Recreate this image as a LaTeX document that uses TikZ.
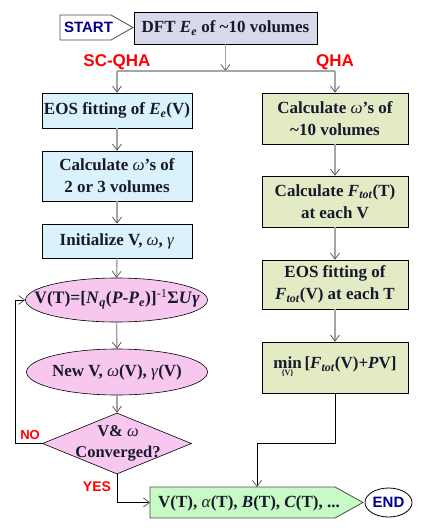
\documentclass[tikz,border=0pt]{standalone}
\usepackage{fontspec}
\setmainfont{Liberation Serif}
\newfontfamily\arialfont{Liberation Sans}
\usetikzlibrary{shapes.geometric,arrows.meta}
\definecolor{lav}{RGB}{217,217,236}
\definecolor{cyanf}{RGB}{218,242,252}
\definecolor{olivef}{RGB}{227,235,197}
\definecolor{pinkf}{RGB}{247,199,240}
\definecolor{greenf}{RGB}{199,250,196}
\definecolor{navy}{RGB}{0,0,140}
\definecolor{txt}{RGB}{25,25,45}
\definecolor{conn}{RGB}{165,165,165}
\definecolor{tipc}{RGB}{80,80,80}
\definecolor{redl}{RGB}{255,0,0}
\newcommand\Ftot{\textit{F}\textsubscript{\textit{tot}}}
\newcommand\Esub{\textit{E}\textsubscript{\textit{e}}}
\newcommand\omg{\textit{\mdseries ω}}
\newcommand\gmm{\textit{\mdseries γ}}
\begin{document}
\begin{tikzpicture}[x=1pt,y=-1pt,
  boxtext/.style={text=txt, font=\fontsize{17}{22}\selectfont\bfseries, align=center, inner sep=0pt},
  box/.style={boxtext, draw=black, line width=0.8pt},
  lbox/.style={box, fill=cyanf, minimum width=150pt},
  rbox/.style={box, fill=olivef, minimum width=146pt},
  ellbox/.style={ellipse, draw=black, line width=0.6pt, fill=pinkf, inner sep=0pt},
  sanslab/.style={font=\arialfont\bfseries\fontsize{#1}{#1}\selectfont, inner sep=0pt},
  redlab/.style={sanslab=#1, text=redl},
  tipstyle/.style={-{Straight Barb[length=6pt,width=9pt,line width=0.7pt,color=tipc]}},
  gline/.style={draw=conn, line width=1.4pt},
  garrow/.style={gline, tipstyle},
  bline/.style={draw=black, line width=0.8pt},
  barrow/.style={bline, tipstyle},
]
\useasboundingbox (0,0) rectangle (423,531);

% START and DFT
\draw[line width=0.8pt, draw=black!70, fill=white] (60,15) coordinate (st1) -- (111,15) -- (133,27.5) -- (111,40) -- (60,40) -- cycle;
\node[sanslab=15, text=navy] (start) at (88.5,27.5) {START};
\node[box, fill=lav, minimum width=183pt, minimum height=32pt] (dft) at (225.5,28) {DFT \Esub\ of \textasciitilde10 volumes};

\coordinate (junc) at (225.5,71);
\coordinate (jl) at (117,71);
\coordinate (jr) at (335,71);
\node[redlab=17] (scqha) at (117,62) {SC-QHA};
\node[redlab=17] (qha) at (335,62) {QHA};

% left column
\node[lbox, minimum height=35pt] (eosl) at (117,110.5) {EOS fitting of \Esub(V)};
\node[lbox, minimum height=50pt] (calcl) at (117,176) {Calculate \omg's of\\2 or 3 volumes};
\node[lbox, minimum height=34pt] (initl) at (117,241) {Initialize V, \omg, \gmm};
\node[ellbox, minimum width=182pt, minimum height=44pt] (ell1) at (116.5,300) {};
\node[boxtext, font=\fontsize{17.5}{22}\selectfont\bfseries] (ell1t) at (117,299) {V(T)=[\textit{N}\textsubscript{\textit{q}}(\textit{P}-\textit{P}\textsubscript{\textit{e}})]\textsuperscript{\mdseries -1}Σ\textit{U}\textit{γ}};
\node[ellbox, minimum width=181pt, minimum height=46pt] (ell2) at (117,372) {};
\node[boxtext] (ell2t) at (ell2) {New V, \omg(V), \gmm(V)};
\node[diamond, draw=black, line width=0.6pt, fill=pinkf, minimum width=149pt, minimum height=61pt, aspect=2.44, inner sep=0pt] (dia) at (117,443.5) {};
\node[boxtext, font=\fontsize{16.5}{21}\selectfont\bfseries] (diat) at (118,443) {V\&\ \omg\\Converged?};

% right column
\node[rbox, minimum height=51pt] (r1) at (335,118.5) {Calculate \omg's of\\\textasciitilde10 volumes};
\node[rbox, minimum height=51pt] (r2) at (335,201.5) {Calculate \Ftot(T)\\at each V};
\node[rbox, minimum height=49pt] (r3) at (335,284.5) {EOS fitting of\\\Ftot(V) at each T};
\node[rbox, minimum height=51pt] (r4) at (335,367.5) {$\mathop{\hbox{min}}\limits_{\hbox{\fontsize{8}{8}\selectfont\{V\}}}$\,[\Ftot(V)+\textit{P}V]};

% result and END
\draw[line width=0.8pt, draw=black!70, fill=greenf] (150,487) -- (335,487) -- (363,502.5) -- (335,518) -- (150,518) -- cycle;
\coordinate (resN) at (257,487);
\coordinate (resW) at (150,502.5);
\node[boxtext] (res) at (249,503) {V(T), \textit{\mdseries α}(T), \textit{B}(T), \textit{C}(T), ...};
\node[ellipse, draw=black, line width=0.8pt, fill=white, minimum width=47pt, minimum height=29pt, inner sep=0pt] (endn) at (388.5,502.5) {};
\node[sanslab=15, text=navy] (endt) at (endn) {END};

% connectors
\draw[garrow] (dft.south) -- (junc);
\draw[gline] (jl) -- (jr);
\draw[garrow] (jl) -- (eosl.north);
\draw[garrow] (jr) -- (r1.north);
\draw[garrow] (eosl.south) -- (calcl.north);
\draw[garrow] (calcl.south) -- (initl.north);
\draw[garrow] (initl.south) -- (ell1.north);
\draw[garrow] (ell1.south) -- (ell2.north);
\draw[garrow] (ell2.south) -- (dia.north);
\draw[garrow] (r1.south) -- (r2.north);
\draw[garrow] (r2.south) -- (r3.north);
\draw[garrow] (r3.south) -- (r4.north);
\coordinate (qc) at (257,443);
\coordinate (loopc) at (15,443.5);
\draw[barrow] (r4.south) |- (qc) -- (resN);
\draw[barrow] (dia.west) -- (loopc) |- (ell1.west);
\draw[barrow] (dia.south) |- (resW);
\node[redlab=13] (no) at (30,435) {NO};
\node[redlab=14] (yes) at (97,487) {YES};
\end{tikzpicture}
\end{document}
